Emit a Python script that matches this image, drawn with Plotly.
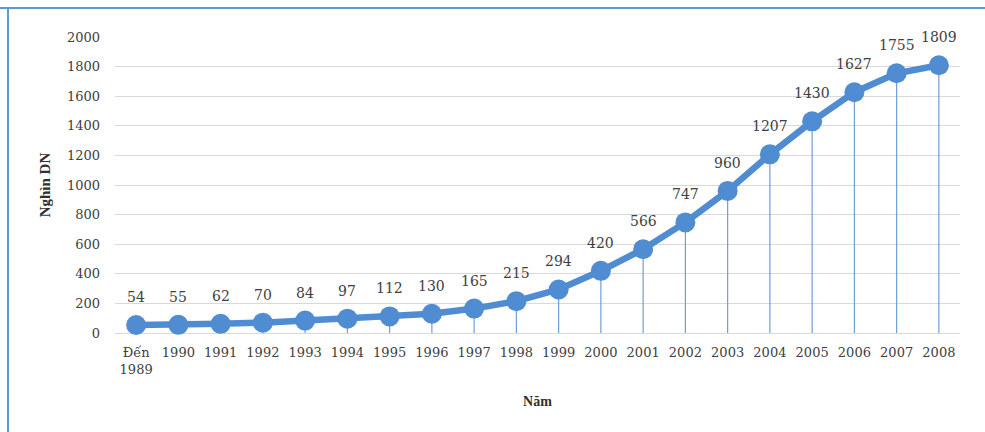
import plotly.graph_objects as go

categories = ["Đến<br>1989", "1990", "1991", "1992", "1993", "1994", "1995", "1996", "1997", "1998",
              "1999", "2000", "2001", "2002", "2003", "2004", "2005", "2006", "2007", "2008"]
values = [54, 55, 62, 70, 84, 97, 112, 130, 165, 215, 294, 420, 566, 747, 960, 1207, 1430, 1627, 1755, 1809]
y_ticks = [0, 200, 400, 600, 800, 1000, 1200, 1400, 1600, 1800, 2000]

BLUE = "#4f8cd2"
DROP = "#6f9fd6"
FONT = "DejaVu Serif"

fig = go.Figure()
fig.add_trace(go.Scatter(
    x=categories, y=values, mode="lines+markers",
    line=dict(color=BLUE, width=6.5),
    marker=dict(color=BLUE, size=20),
    error_y=dict(type="data", symmetric=False, array=[0] * len(values), arrayminus=values,
                 color=DROP, thickness=1.2, width=0),
    cliponaxis=False,
    hoverinfo="skip",
))

for i, v in enumerate(values):
    fig.add_annotation(x=i, y=v, text=str(v), showarrow=False, yanchor="middle",
                       yshift=28, font=dict(family=FONT, size=14, color="#404040"))

fig.update_layout(
    width=985, height=432,
    margin=dict(l=115, r=25, t=37, b=99),
    paper_bgcolor="white", plot_bgcolor="white",
    showlegend=False,
    font=dict(family=FONT, size=13, color="#404040"),
    xaxis=dict(
        type="category", tickmode="array", tickvals=categories, ticktext=categories,
        showgrid=False, showline=False, ticks="", ticklabelstandoff=10,
        tickfont=dict(family=FONT, size=13, color="#404040"),
        title=dict(text="<b>Năm</b>", font=dict(family="Liberation Serif", size=14, color="#303030"), standoff=20),
        range=[-0.5, len(categories) - 0.5],
    ),
    yaxis=dict(
        range=[0, 2000], tickvals=y_ticks,
        showgrid=True, gridcolor="#d9d9d9", gridwidth=1,
        zeroline=True, zerolinecolor="#d9d9d9", zerolinewidth=1,
        ticks="", ticklabelstandoff=14,
        tickfont=dict(family=FONT, size=13, color="#404040"),
        title=dict(text="<b>Nghìn DN</b>", font=dict(family="Liberation Serif", size=15, color="#303030"), standoff=12),
    ),
    shapes=[
        dict(type="line", xref="paper", yref="paper", x0=-115/845, x1=1 + 25/845,
             y0=1 + 29/296, y1=1 + 29/296, line=dict(color="#5b9bd5", width=2)),
        dict(type="line", xref="paper", yref="paper", x0=-107/845, x1=-107/845,
             y0=-99/296, y1=1 + 29/296, line=dict(color="#5b9bd5", width=2)),
    ],
)

fig.write_html("out.html")
